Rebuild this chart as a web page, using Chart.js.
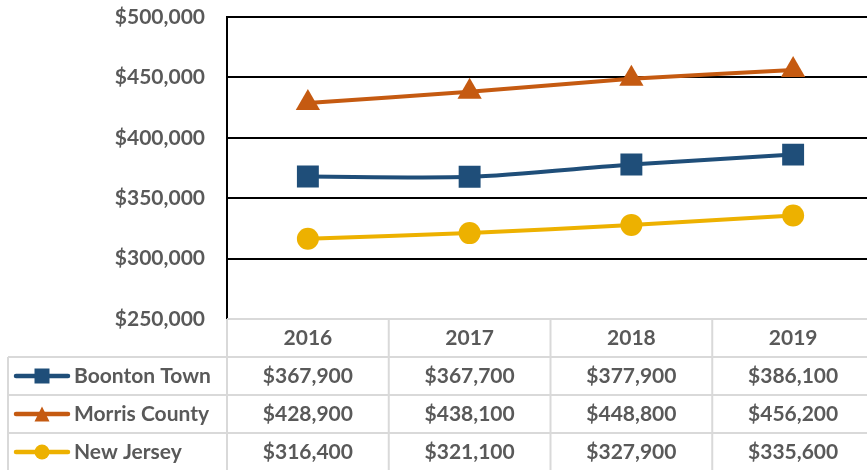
<!DOCTYPE html>
<html>
<head>
<meta charset="utf-8">
<script src="https://cdn.jsdelivr.net/npm/chart.js@4/dist/chart.umd.min.js"></script>
<style>
  html, body { margin: 0; padding: 0; background: #fff; overflow: hidden; }
  canvas { display: block; }
</style>
</head>
<body>
<canvas id="homeValueChart" width="876" height="470"></canvas>
<script>
// Median home value by year
const years = ['2016', '2017', '2018', '2019'];
const seriesNames = ['Boonton Town', 'Morris County', 'New Jersey'];
const boontonTown = [367900, 367700, 377900, 386100];
const morrisCounty = [428900, 438100, 448800, 456200];
const newJersey = [316400, 321100, 327900, 335600];
const yTicks = [250000, 300000, 350000, 400000, 450000, 500000];

const FONT = 'Lato, "Open Sans", sans-serif';
const TEXT = '#595959';
const TABLE_LINE = '#d9d9d9';

const money = v => '$' + v.toLocaleString('en-US');

function drawMarker(ctx, style, x, y, s, color) {
    ctx.fillStyle = color;
    ctx.beginPath();
    if (style === 'rect') {
        ctx.rect(x - s / 2, y - s / 2, s, s);
    } else if (style === 'triangle') {
        ctx.moveTo(x, y - s / 2);
        ctx.lineTo(x + s / 2, y + s / 2);
        ctx.lineTo(x - s / 2, y + s / 2);
        ctx.closePath();
    } else {
        ctx.arc(x, y, s / 2, 0, Math.PI * 2);
    }
    ctx.fill();
}

// draws the data table under the plot, lined up with the category scale
const dataTable = {
    id: 'dataTable',
    afterDraw(chart) {
        const { ctx, chartArea, scales } = chart;
        const x = scales.x;
        const colW = (chartArea.right - chartArea.left) / years.length;
        const top = chartArea.bottom;
        const headH = 38;
        const rowH = 38;
        const tableLeft = 8;
        const keyLeft = 14, keyRight = 70;

        ctx.save();
        ctx.strokeStyle = TABLE_LINE;
        ctx.lineWidth = 2;
        ctx.beginPath();
        ctx.moveTo(chartArea.left, top);
        ctx.lineTo(chartArea.right, top);
        for (let r = 0; r < seriesNames.length; r++) {
            const yy = top + headH + r * rowH;
            ctx.moveTo(tableLeft, yy);
            ctx.lineTo(chartArea.right, yy);
        }
        ctx.moveTo(tableLeft, top + headH);
        ctx.lineTo(tableLeft, top + headH + rowH * seriesNames.length);
        for (let c = 0; c <= years.length; c++) {
            const xx = chartArea.left + c * colW;
            ctx.moveTo(xx, top);
            ctx.lineTo(xx, top + headH + rowH * seriesNames.length);
        }
        ctx.stroke();

        ctx.fillStyle = TEXT;
        ctx.font = 'bold 21px ' + FONT;
        ctx.textAlign = 'center';
        ctx.textBaseline = 'middle';
        years.forEach((yr, i) => {
            ctx.fillText(yr, x.getPixelForValue(i), top + headH / 2);
        });

        chart.data.datasets.forEach((ds, r) => {
            const cy = top + headH + r * rowH + rowH / 2;
            // legend key
            ctx.strokeStyle = ds.borderColor;
            ctx.lineWidth = 4.5;
            ctx.lineCap = 'round';
            ctx.beginPath();
            ctx.moveTo(keyLeft + 2, cy);
            ctx.lineTo(keyRight - 2, cy);
            ctx.stroke();
            drawMarker(ctx, ds.pointStyle, (keyLeft + keyRight) / 2, cy, 15, ds.borderColor);

            ctx.fillStyle = TEXT;
            ctx.textAlign = 'left';
            ctx.fillText(ds.label, 74, cy);
            ctx.textAlign = 'center';
            ds.data.forEach((v, i) => {
                ctx.fillText(money(v), x.getPixelForValue(i), cy);
            });
        });
        ctx.restore();
    }
};

new Chart(document.getElementById('homeValueChart'), {
    type: 'line',
    data: {
        labels: years,
        datasets: [
            {
                label: seriesNames[0],
                data: boontonTown,
                borderColor: '#1f4e79',
                backgroundColor: '#1f4e79',
                pointStyle: 'rect',
                pointRadius: 15.5
            },
            {
                label: seriesNames[1],
                data: morrisCounty,
                borderColor: '#c55a11',
                backgroundColor: '#c55a11',
                pointStyle: 'triangle',
                pointRadius: 14
            },
            {
                label: seriesNames[2],
                data: newJersey,
                borderColor: '#edb100',
                backgroundColor: '#edb100',
                pointStyle: 'circle',
                pointRadius: 11
            }
        ]
    },
    options: {
        responsive: false,
        animation: false,
        layout: { autoPadding: false, padding: { top: 17, right: 2, bottom: 151, left: 0 } },
        elements: {
            line: { borderWidth: 4, tension: 0.25 },
            point: { borderWidth: 0, hoverRadius: 11 }
        },
        scales: {
            x: {
                display: false,
                offset: true
            },
            y: {
                min: 250000,
                max: 500000,
                afterFit(scale) {
                    scale.width = 227;
                    scale.paddingTop = 0;
                    scale.paddingBottom = 0;
                },
                afterBuildTicks(scale) { scale.ticks = yTicks.map(v => ({ value: v })); },
                border: { display: true, color: '#000', width: 2 },
                grid: {
                    drawTicks: false,
                    lineWidth: 2,
                    color: ctx => (ctx.tick && ctx.tick.value === 250000 ? '#bfbfbf' : '#000')
                },
                ticks: {
                    padding: 22,
                    color: TEXT,
                    font: { family: FONT, size: 21, weight: 'bold' },
                    callback: v => money(v)
                }
            }
        },
        plugins: {
            legend: { display: false },
            tooltip: { enabled: false }
        }
    },
    plugins: [dataTable]
});
</script>
</body>
</html>
